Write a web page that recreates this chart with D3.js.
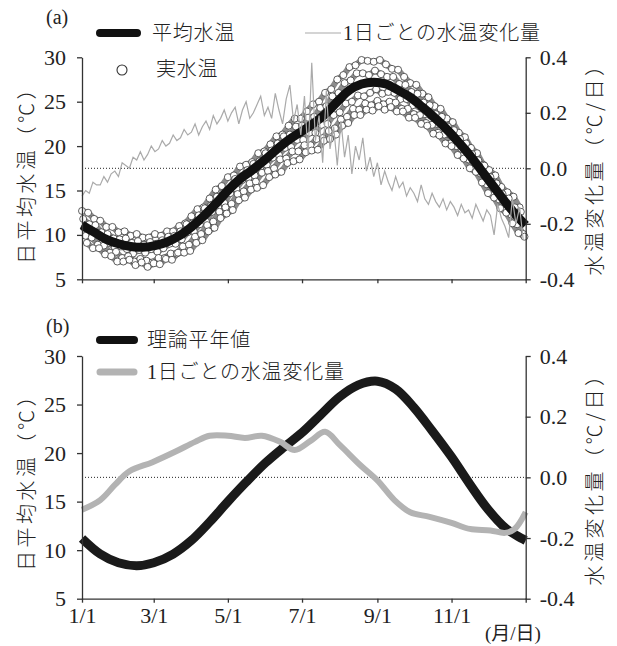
<!DOCTYPE html>
<html>
<head>
<meta charset="utf-8">
<script src="https://cdn.jsdelivr.net/npm/d3@7"></script>
<style>
  body { margin: 0; background: #fff; }
  text { font-family: "Liberation Serif", "Noto Sans CJK JP", serif; fill: #222; }
</style>
</head>
<body>
<div id="chart"></div>
<script>
// x axis: day of year
var tickDays = [0, 59, 120, 181, 243, 304, 365];
var tickLabels = ["1/1", "3/1", "5/1", "7/1", "9/1", "11/1", ""];
var tempTicks = [5, 10, 15, 20, 25, 30];
var changeTicks = [-0.4, -0.2, 0.0, 0.2, 0.4];

// (a) mean water temperature (black)
var meanDays = [0,10,20,30,40,50,60,70,80,90,100,110,120,130,140,150,160,170,180,190,200,
                210,220,230,240,250,260,270,280,290,300,310,320,330,340,350,360,365];
var meanTemp = [11.1,10.3,9.5,9.0,8.7,8.6,8.8,9.2,9.9,10.9,12.1,13.5,15.0,16.3,17.3,18.4,19.6,20.7,21.6,22.5,23.6,
                25.0,26.3,27.0,27.2,27.0,26.3,25.5,24.4,23.2,21.9,20.4,18.8,17.0,15.2,13.4,11.8,11.1];

// (a) observed water temperature, several years, every 5 days (year k starts on day k)
var realA = [12.7,12.5,11.8,11.6,10.9,10.9,10.3,10.4,9.9,10.1,9.7, 9.7,10.1,9.9,10.4,10.4,11.0,11.3,12.1,12.9,13.1,
             14.1,15.1,15.5,16.5,16.7,17.7,17.9,18.2,19.2,19.4, 20.2,21.1,21.3,22.3,23.1,23.1,23.9,24.7,25.0,26.0,
             26.4,27.5,28.0,28.9,29.1,29.7,29.6,29.5,29.7,29.2, 28.7,28.6,27.8,27.1,26.9,25.9,25.5,24.5,24.2,23.1,
             22.7,21.5,21.0,19.8,19.2,17.9,17.3,16.7,15.4,14.8,14.3,13.1];
var realB = [11.8,11.2,11.1,10.3,10.1,9.6,9.5,9.6,9.1,9.3,8.9, 9.2,9.0,9.4,9.8,9.9,10.4,11.2,11.3,12.2,13.0,
             13.3,14.3,14.7,15.2,16.3,16.6,17.3,18.0,18.3,19.2, 19.5,20.3,21.1,21.3,22.2,22.3,23.2,23.3,24.3,24.5,
             25.6,26.0,27.1,27.4,28.2,28.2,28.0,28.5,28.1,27.8, 27.8,27.0,26.9,26.1,25.9,24.9,24.6,23.6,23.3,22.2,
             21.8,20.8,20.3,19.1,18.4,17.8,16.5,15.8,14.6,14.1,13.1,12.6];
var realC = [10.8,10.2,10.1,9.3,9.1,8.6,8.7,8.4,7.9,8.3,8.0, 8.4,8.1,8.5,9.0,9.0,9.5,10.3,10.4,11.2,11.5,
             12.6,13.1,13.6,14.7,15.2,16.2,16.4,16.7,17.7,17.9, 18.7,19.0,19.8,19.9,20.7,20.7,21.5,21.5,22.4,22.5,
             23.5,23.8,24.8,25.0,25.7,25.6,26.0,26.4,25.9,26.1, 26.0,25.3,25.3,24.6,24.5,23.6,23.4,22.5,22.3,21.3,
             20.8,19.7,19.3,18.3,17.7,16.4,15.7,14.5,14.0,12.9,12.4,11.4];
var realD = [9.9,9.7,8.9,8.8,8.0,8.1,7.4,7.6,7.0,7.3,7.1, 6.9,7.4,7.4,7.9,7.9,8.7,8.9,9.8,10.1,11.1,
             11.5,12.6,13.1,13.5,14.6,14.9,15.8,16.0,17.0,17.2, 17.5,18.5,18.6,19.4,19.4,20.1,20.1,20.8,20.9,21.7,
             22.0,23.0,23.3,24.2,24.1,24.8,24.6,25.1,24.7,25.0, 24.9,24.2,24.2,23.6,23.5,22.6,22.4,21.5,21.3,20.3,
             20.0,18.9,18.5,17.4,16.9,15.7,14.5,14.0,12.8,12.3,11.2,10.1];
var realE = [9.1,8.5,8.5,7.8,7.6,7.0,7.0,7.2,6.6,6.9,6.4, 6.8,6.7,7.3,7.2,8.0,8.0,8.2,9.1,9.4,10.4,
             10.8,11.9,12.4,12.8,13.9,14.2,15.1,15.3,15.6,16.5, 16.8,17.1,18.1,18.3,18.5,19.3,19.5,19.6,20.6,20.8,
             21.3,22.3,22.6,23.5,23.5,24.1,24.0,24.5,24.1,24.4, 23.9,23.9,23.2,23.2,22.5,22.3,21.4,21.2,20.3,20.0,
             19.0,18.6,17.5,17.1,15.9,14.7,14.2,13.0,12.5,11.3,10.2,9.8];

// (a) daily change of water temperature, every 3 days
var changeDaily = [-0.10,-0.08,-0.09,-0.05,-0.06,-0.06,-0.03,-0.05,-0.02,-0.01,
  -0.03,0.02,0.01,0.00,0.04,0.03,0.06,0.03,0.05,0.08,
  0.06,0.07,0.10,0.08,0.09,0.12,0.10,0.11,0.14,0.12,
  0.13,0.16,0.12,0.15,0.17,0.14,0.19,0.16,0.18,0.21,
  0.17,0.20,0.22,0.16,0.21,0.24,0.18,0.20,0.23,0.26,
  0.19,0.22,0.18,0.27,0.21,0.16,0.25,0.30,0.17,0.23,
  0.12,0.26,0.05,0.38,0.10,0.19,0.02,0.28,0.07,0.15,
  0.01,0.17,0.04,0.12,-0.02,0.08,0.03,0.11,-0.01,0.04,
  -0.03,0.02,-0.06,-0.01,-0.05,-0.08,-0.03,-0.07,-0.05,-0.10,
  -0.07,-0.09,-0.12,-0.06,-0.11,-0.13,-0.09,-0.12,-0.14,-0.11,
  -0.15,-0.12,-0.14,-0.17,-0.13,-0.16,-0.15,-0.18,-0.13,-0.16,
  -0.19,-0.15,-0.17,-0.24,-0.13,-0.18,-0.21,-0.25,-0.11,-0.20,
  -0.14,-0.26];

// (b) theoretical normal (black) and its daily change (gray)
var normDays = [0,15,30,45,59,75,90,105,120,135,151,166,181,196,212,227,243,258,273,288,304,319,334,349,365];
var normTemp = [11.2,9.6,8.7,8.4,8.7,9.6,11.0,12.9,15.0,17.0,19.0,20.6,22.1,23.9,25.8,27.0,27.4,26.6,24.7,22.3,19.6,16.8,14.2,12.2,11.0];
var normChangeDays = [0,15,27,39,58,77,93,105,120,134,148,163,175,188,200,212,229,243,257,270,286,304,319,336,348,356,365];
var normChange = [-0.107,-0.075,-0.025,0.02,0.05,0.085,0.117,0.137,0.137,0.13,0.137,0.117,0.09,0.12,0.15,0.107,0.04,-0.01,-0.075,-0.115,-0.13,-0.15,-0.17,-0.175,-0.183,-0.17,-0.115];

var svg = d3.select("#chart").append("svg")
    .attr("width", 617)
    .attr("height", 646);

var x = d3.scaleLinear().domain([0, 365]).range([82, 525.7]);

function drawFrame(top, bottom) {
    var yL = d3.scaleLinear().domain([5, 30]).range([bottom, top]);
    var yR = d3.scaleLinear().domain([-0.4, 0.4]).range([bottom, top]);

    // zero line of the change axis
    svg.append("line")
        .attr("x1", x(0)).attr("x2", x(365))
        .attr("y1", yR(0)).attr("y2", yR(0))
        .attr("stroke", "#222").attr("stroke-width", 1)
        .attr("stroke-dasharray", "1,2");

    return { yL: yL, yR: yR };
}

function drawAxes(s, showLabels) {
    svg.append("g").attr("class", "axis")
        .attr("transform", "translate(" + x(0) + ",0)")
        .call(d3.axisLeft(s.yL).tickValues(tempTicks).tickSize(5).tickSizeOuter(0).tickPadding(11));
    svg.append("g").attr("class", "axis")
        .attr("transform", "translate(" + x(365) + ",0)")
        .call(d3.axisRight(s.yR).tickValues(changeTicks).tickSize(5).tickSizeOuter(0).tickPadding(9)
            .tickFormat(function (d) { return d.toFixed(1); }));
    svg.append("g").attr("class", "axis")
        .attr("transform", "translate(0," + s.yL(5) + ")")
        .call(d3.axisBottom(x).tickValues(tickDays).tickSize(4).tickSizeOuter(0).tickPadding(5)
            .tickFormat(function (d, i) { return showLabels ? tickLabels[i] : ""; }));

    svg.selectAll(".axis").attr("font-family", "Liberation Serif");
    svg.selectAll(".axis path, .axis line")
        .attr("stroke", "#333").attr("stroke-width", 1.3);
    svg.selectAll(".axis text")
        .attr("font-size", 22)
        .attr("fill", "#222")
        .style("font-family", "'Liberation Serif', serif");
}

// ---------- panel (a) ----------
var sa = drawFrame(57.3, 279.3);

var years = [realA, realB, realC, realD, realE];
// each year as a gray rope, then its observations as open circles
years.forEach(function (vals, k) {
    svg.append("path")
        .datum(vals)
        .attr("fill", "none")
        .attr("stroke", "#8c8c8c")
        .attr("stroke-width", 6)
        .attr("stroke-linejoin", "round")
        .attr("d", d3.line()
            .x(function (d, j) { return x(k + 5 * j); })
            .y(function (d) { return sa.yL(d); }));
});
years.forEach(function (vals, k) {
    svg.append("g").selectAll("circle")
        .data(vals)
        .enter().append("circle")
        .attr("cx", function (d, j) { return x(k + 5 * j); })
        .attr("cy", function (d) { return sa.yL(d); })
        .attr("r", 3.5)
        .attr("fill", "#fff")
        .attr("stroke", "#3a3a3a")
        .attr("stroke-width", 0.8);
});

svg.append("path")
    .datum(meanTemp)
    .attr("fill", "none")
    .attr("stroke", "#111")
    .attr("stroke-width", 9)
    .attr("d", d3.line()
        .x(function (d, i) { return x(meanDays[i]); })
        .y(function (d) { return sa.yL(d); })
        .curve(d3.curveCatmullRom));

svg.append("path")
    .datum(changeDaily)
    .attr("fill", "none")
    .attr("stroke", "#aaa")
    .attr("stroke-width", 1.2)
    .attr("d", d3.line()
        .x(function (d, i) { return x(3 * i); })
        .y(function (d) { return sa.yR(d); }));

drawAxes(sa, false);

// ---------- panel (b) ----------
var sb = drawFrame(356, 598.7);

svg.append("path")
    .datum(normTemp)
    .attr("fill", "none")
    .attr("stroke", "#1a1a1a")
    .attr("stroke-width", 9)
    .attr("d", d3.line()
        .x(function (d, i) { return x(normDays[i]); })
        .y(function (d) { return sb.yL(d); })
        .curve(d3.curveCatmullRom));

svg.append("path")
    .datum(normChange)
    .attr("fill", "none")
    .attr("stroke", "#b3b3b3")
    .attr("stroke-width", 6)
    .attr("d", d3.line()
        .x(function (d, i) { return x(normChangeDays[i]); })
        .y(function (d) { return sb.yR(d); })
        .curve(d3.curveCatmullRom));

drawAxes(sb, true);

// ---------- titles, axis names, legends ----------
svg.append("text").attr("x", 46).attr("y", 24).attr("font-size", 20).text("(a)");
svg.append("text").attr("x", 46).attr("y", 333).attr("font-size", 20).text("(b)");

function yTitle(cx, cy, label) {
    svg.append("text")
        .attr("transform", "translate(" + cx + "," + cy + ") rotate(-90)")
        .attr("text-anchor", "middle")
        .attr("dominant-baseline", "central")
        .attr("font-size", 20)
        .attr("font-weight", 300)
        .style("letter-spacing", "3.5px")
        .style("font-family", "'Noto Sans CJK JP'")
        .text(label);
}
yTitle(25, 170, "日平均水温（℃）");
yTitle(593, 164, "水温変化量（℃/日）");
yTitle(25, 477, "日平均水温（℃）");
yTitle(593, 474, "水温変化量（℃/日）");

svg.append("text").attr("x", 485).attr("y", 640).attr("font-size", 19).text("(月/日)");

function legendText(lx, ly, label) {
    svg.append("text")
        .attr("x", lx).attr("y", ly)
        .attr("dominant-baseline", "central")
        .attr("font-size", 20)
        .attr("font-weight", 300)
        .style("letter-spacing", "0.8px")
        .text(label);
}
function legendLine(x1, x2, ly, color, w) {
    svg.append("line")
        .attr("x1", x1).attr("x2", x2).attr("y1", ly).attr("y2", ly)
        .attr("stroke", color).attr("stroke-width", w)
        .attr("stroke-linecap", w > 3 ? "round" : "butt");
}

legendLine(100, 137, 33, "#111", 8);
legendText(152, 33, "平均水温");
svg.append("circle").attr("cx", 122).attr("cy", 70).attr("r", 5)
    .attr("fill", "#fff").attr("stroke", "#333").attr("stroke-width", 1.1);
legendText(156, 69, "実水温");
legendLine(305, 341, 33, "#aaa", 1.2);
legendText(343, 33, "1日ごとの水温変化量");

legendLine(100, 134, 340, "#111", 8);
legendText(147, 340, "理論平年値");
legendLine(100, 134, 372, "#b3b3b3", 7);
legendText(147, 372, "1日ごとの水温変化量");
</script>
</body>
</html>
